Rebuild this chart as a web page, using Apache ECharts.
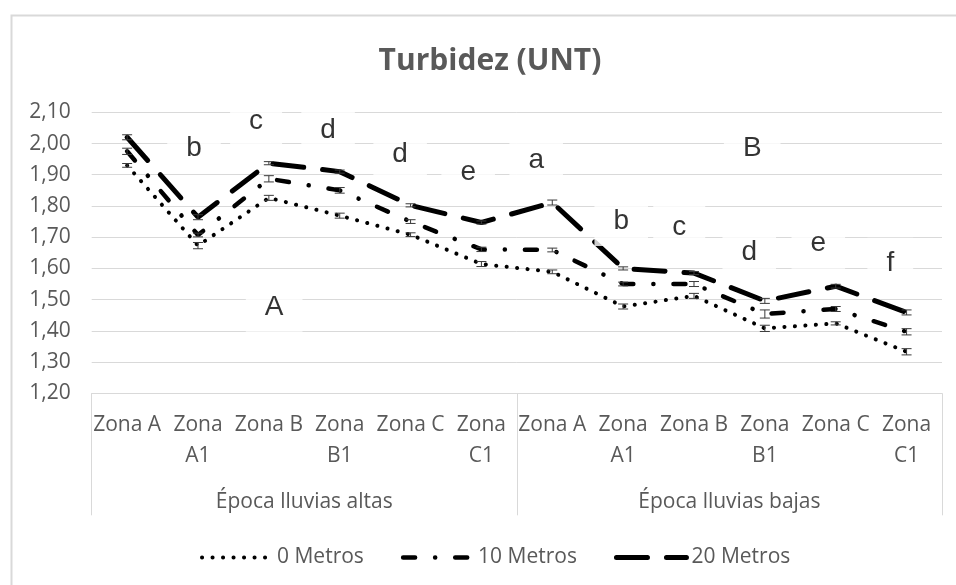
<!DOCTYPE html>
<html>
<head>
<meta charset="utf-8">
<script src="https://cdn.jsdelivr.net/npm/echarts@6/dist/echarts.min.js"></script>
<style>html,body{margin:0;padding:0;background:#fff}#c{width:956px;height:585px}</style>
</head>
<body>
<div id="c"></div>
<script>
// ---- data ----
var categories = ['Zona A','Zona A1','Zona B','Zona B1','Zona C','Zona C1','Zona A','Zona A1','Zona B','Zona B1','Zona C','Zona C1'];
var groups = ['Época lluvias altas','Época lluvias bajas'];
var seriesNames = ['0 Metros','10 Metros','20 Metros'];
var m0  = [1.93, 1.673, 1.826, 1.769, 1.708, 1.614, 1.589, 1.478, 1.512, 1.408, 1.424, 1.333];
var m10 = [1.975, 1.707, 1.887, 1.85, 1.75, 1.661, 1.659, 1.55, 1.55, 1.454, 1.47, 1.397];
var m20 = [2.02, 1.764, 1.937, 1.91, 1.802, 1.747, 1.811, 1.60, 1.585, 1.496, 1.543, 1.459];
var err0  = [0.006, 0.010, 0.008, 0.008, 0.006, 0.008, 0.006, 0.008, 0.008, 0.010, 0.005, 0.010];
var err10 = [0.010, 0.006, 0.010, 0.009, 0.006, 0.007, 0.006, 0.006, 0.008, 0.013, 0.008, 0.010];
var err20 = [0.008, 0.008, 0.005, 0.005, 0.005, 0.005, 0.008, 0.005, 0.005, 0.008, 0.006, 0.008];
var yTicks = {min: 1.2, max: 2.1, step: 0.1};
// significance letters: text, position along category index, value
var letterText = ['a','b','c','d','d','e','a','b','c','d','e','f','A','B'];
var letterPos  = [-0.157, 0.944, 1.82, 2.836, 3.853, 4.813, 5.773, 6.973, 7.792, 8.78, 9.754, 10.77, 2.075, 8.822];
var letterVal  = [2.150, 1.985, 2.070, 2.044, 1.967, 1.909, 1.945, 1.752, 1.733, 1.653, 1.679, 1.618, 1.477, 1.986];

var chart = echarts.init(document.getElementById('c'));
var gray = '#595959', grid = '#d9d9d9';
var sans = '"Open Sans", sans-serif';

function errSeries(vals, errs) {
  return {
    type: 'custom', xAxisIndex: 0, yAxisIndex: 0, z: 5, silent: true,
    data: vals.map(function (v, i) { return [i, v, errs[i]]; }),
    encode: {x: 0, y: 1},
    renderItem: function (params, api) {
      var i = api.value(0), v = api.value(1), e = api.value(2);
      var t = api.coord([i, v + e]), b = api.coord([i, v - e]);
      var hw = 5, st = {stroke: '#3a3a3a', lineWidth: 1};
      return {type: 'group', children: [
        {type: 'line', shape: {x1: t[0], y1: t[1], x2: b[0], y2: b[1]}, style: st},
        {type: 'line', shape: {x1: t[0] - hw, y1: t[1], x2: t[0] + hw, y2: t[1]}, style: st},
        {type: 'line', shape: {x1: b[0] - hw, y1: b[1], x2: b[0] + hw, y2: b[1]}, style: st}
      ]};
    }
  };
}

function lineSeries(name, vals, ls) {
  return {name: name, type: 'line', data: vals, symbol: 'none', z: 3,
    lineStyle: ls, itemStyle: {color: 'rgba(0,0,0,0)', borderWidth: 0}};
}

var option = {
  animation: false,
  backgroundColor: '#fff',
  graphic: [{type: 'rect', left: 9, top: 13, shape: {width: 980, height: 620}, style: {fill: 'none', stroke: '#d9d9d9', lineWidth: 2}, silent: true}],
  title: {
    text: 'Turbidez (UNT)', left: 490, top: 43, textAlign: 'center', padding: 0,
    textStyle: {fontFamily: sans, fontWeight: 'bold', fontSize: 30, lineHeight: 36, color: gray}
  },
  legend: {
    data: seriesNames, left: 195, top: 542, itemWidth: 70, itemHeight: 14, itemGap: 37,
    itemStyle: {opacity: 0},
    lineStyle: {width: 'inherit', type: 'inherit', cap: 'round'},
    textStyle: {fontFamily: sans, fontSize: 21, color: gray}
  },
  grid: {left: 91.7, right: 14, top: 112.3, bottom: 191.7, containLabel: false},
  xAxis: [
    {
      type: 'category', data: categories, position: 'bottom', boundaryGap: true,
      axisLine: {show: true, lineStyle: {color: grid, width: 1}},
      axisTick: {show: false},
      axisLabel: {
        interval: 0, margin: 16, color: gray, fontFamily: sans, fontSize: 21, lineHeight: 31,
        formatter: function (v) { return v.replace(/ (\w\d)$/, '\n$1'); }
      }
    },
    {
      type: 'category', data: groups, position: 'bottom', boundaryGap: true,
      axisLine: {show: false},
      axisTick: {show: true, length: 122, lineStyle: {color: grid, width: 1}},
      axisLabel: {interval: 0, margin: 95, color: gray, fontFamily: sans, fontSize: 21, lineHeight: 28}
    },
    {type: 'value', min: -0.5, max: 11.5, position: 'top', show: false}
  ],
  yAxis: {
    type: 'value', min: yTicks.min, max: yTicks.max, interval: yTicks.step,
    axisLine: {show: false}, axisTick: {show: false},
    splitLine: {lineStyle: {color: grid, width: 1}},
    axisLabel: {margin: 21, color: gray, fontFamily: sans, fontSize: 21,
      formatter: function (v) { return v.toFixed(2).replace('.', ','); }}
  },
  series: [
    lineSeries(seriesNames[0], m0, {color: '#000', width: 4, type: [0.1, 10.4], cap: 'round'}),
    lineSeries(seriesNames[1], m10, {color: '#000', width: 4.5, type: [12, 20, 0.1, 20], cap: 'round'}),
    lineSeries(seriesNames[2], m20, {color: '#000', width: 5, type: [31, 19], cap: 'round'}),
    errSeries(m0, err0), errSeries(m10, err10), errSeries(m20, err20),
    {
      type: 'scatter', xAxisIndex: 2, yAxisIndex: 0, z: 4, silent: true,
      symbolSize: 1, itemStyle: {color: 'rgba(0,0,0,0)'},
      data: letterText.map(function (t, i) { return {name: t, value: [letterPos[i], letterVal[i]]}; }),
      label: {
        show: true, position: 'inside', formatter: '{b}', color: '#000',
        fontFamily: '"Liberation Sans", Arial, sans-serif', fontSize: 28, lineHeight: 28,
        backgroundColor: '#fff', padding: [11, 19]
      }
    }
  ]
};
chart.setOption(option);
</script>
</body>
</html>
